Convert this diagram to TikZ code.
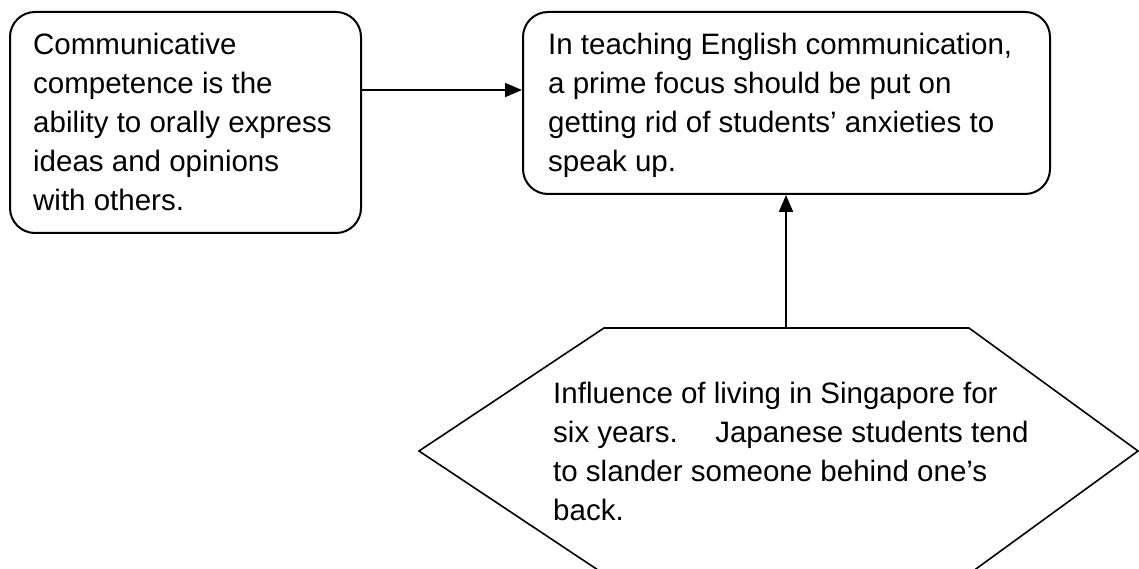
\documentclass[tikz,border=0pt]{standalone}
\usepackage{fontspec}
\setmainfont{Liberation Sans}
\usetikzlibrary{arrows.meta}

% left-aligned block of lines whose baseline is that of the first line
\newcommand{\linesblock}[1]{\vtop{\baselineskip=39pt\lineskiplimit=-100pt\halign{##\hfil\cr#1\crcr}}}

\tikzset{
  card/.style={draw=black, line width=2pt, rounded corners=25pt, fill=white, inner sep=0pt},
  txt/.style={inner sep=0pt, font=\fontsize{29.5pt}{39pt}\selectfont},
  arr/.style={line width=2pt, -{Triangle[length=17pt,width=14pt]}},
  hexline/.style={draw=black, line width=1.6pt, line join=miter}
}

\begin{document}
\begin{tikzpicture}[x=1pt, y=-1pt]
  \useasboundingbox[fill=white] (0,0) rectangle (1139,569);

  % rounded boxes
  \node[card, minimum width=351pt, minimum height=221pt, anchor=north west] (L) at (9,11) {};
  \node[card, minimum width=527pt, minimum height=182pt, anchor=north west] (R) at (522,11) {};

  \node[txt, anchor=base west] (Ltext) at (33,55) {\linesblock{%
    Communicative\cr
    competence is the\cr
    ability to orally express\cr
    ideas and opinions\cr
    with others.}};

  \node[txt, anchor=base west] (Rtext) at (548,55) {\linesblock{%
    In teaching English communication,\cr
    a prime focus should be put on\cr
    getting rid of students’ anxieties to\cr
    speak up.}};

  % hexagon, its lower edge runs off the page
  \begin{scope}
    \clip (0,0) rectangle (1139,569);
    \draw[hexline] (604,328) -- (969,328) -- (1138,451) -- (969,574)
      -- (604,574) -- (419,451) -- cycle;
  \end{scope}
  \coordinate (Htop) at (786,328);

  \node[txt, anchor=base west] (Htext) at (553,403) {\linesblock{%
    Influence of living in Singapore for\cr
    six years.\hspace{37.5pt}Japanese students tend\cr
    to slander someone behind one’s\cr
    back.}};

  % connectors
  \path (L.north east) ++(0,79) coordinate (Lout);
  \draw[arr] (Lout) -- (Lout -| R.west);
  \draw[arr] (Htop) -- (Htop |- R.south);
\end{tikzpicture}
\end{document}
